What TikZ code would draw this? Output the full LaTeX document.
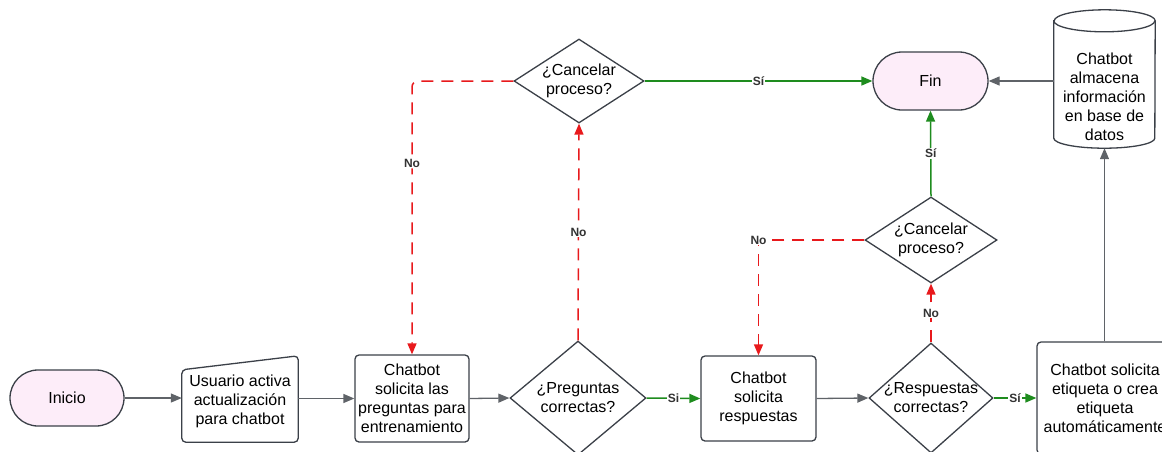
\documentclass[tikz,border=0pt]{standalone}
\usepackage{fontspec}
\setmainfont{Liberation Sans}
\usetikzlibrary{shapes.geometric,shapes.misc,arrows.meta}
\definecolor{bd}{HTML}{3B4048}
\definecolor{pinkf}{HTML}{FDEDF9}
\definecolor{ar}{HTML}{5F6368}
\definecolor{gr}{HTML}{1E8C1E}
\definecolor{rd}{HTML}{E8191C}
\begin{document}
\begin{tikzpicture}[x=1pt,y=-1pt,
 font=\fontsize{16}{19}\selectfont,
 base/.style={draw=bd, line width=1.3pt, align=center, text=black, inner sep=0pt},
 term/.style={base, rounded rectangle, fill=pinkf},
 proc/.style={base, rectangle, rounded corners=4pt, fill=white},
 dec/.style={base, diamond, fill=white},
 txt/.style={align=center, inner sep=0pt, text=black},
 tip/.style={-{Triangle[length=11pt,width=9pt]}},
 flow/.style={draw=ar, line width=1.3pt, tip},
 yes/.style={draw=gr, line width=1.5pt, tip},
 no/.style={draw=rd, line width=1.5pt, dash pattern=on 12pt off 8pt, tip},
 lbl/.style={fill=white, inner sep=1.2pt, font=\fontsize{12}{13}\selectfont\bfseries, text=black!80}
]
\useasboundingbox (0,0) rectangle (1162,451);

% nodes
\node[term, minimum width=114pt, minimum height=56pt] (ini) at (67,398) {Inicio};
\node[inner sep=0pt, minimum width=116pt, minimum height=82pt] (u) at (240,401) {};
\draw[draw=bd, line width=1.3pt, fill=white, rounded corners=4pt]
  (u.south west) -- ([yshift=-10pt]u.north west) -- ([yshift=4pt]u.north east) -- (u.south east) -- cycle;
\node[txt] (ut) at (u) {Usuario activa\\actualización\\para chatbot};

\node[proc, minimum width=114pt, minimum height=87pt] (cs) at (412,398.5) {Chatbot\\solicita las\\preguntas para\\entrenamiento};

\node[dec, minimum width=136pt, minimum height=114pt] (dp) at (578,398) {};
\node[txt] (dpt) at (dp) {¿Preguntas\\correctas?};

\node[proc, minimum width=115pt, minimum height=85pt] (cr) at (758.5,398.5) {Chatbot\\solicita\\respuestas};

\node[dec, minimum width=124pt, minimum height=110pt] (dr) at (931,398) {};
\node[txt] (drt) at (dr) {¿Respuestas\\correctas?};

\node[proc, minimum width=136pt, minimum height=112pt] (et) at (1105,398) {Chatbot solicita\\etiqueta o crea\\etiqueta\\automáticamente};

\node[dec, minimum width=130pt, minimum height=84pt] (cp) at (579,81) {};
\node[txt] (cpt) at (cp) {¿Cancelar\\proceso?};

\node[dec, minimum width=132pt, minimum height=86pt] (cm) at (931,240) {};
\node[txt] (cmt) at (cm) {¿Cancelar\\proceso?};

\node[term, minimum width=115pt, minimum height=58pt] (fin) at (930.5,81) {Fin};

\node[minimum width=101pt, minimum height=138pt, inner sep=0pt] (db) at (1104.5,79) {};
\draw[draw=bd, line width=1.3pt, fill=white]
  ([yshift=-11pt]db.north west) -- ([yshift=10pt]db.south west)
  arc[start angle=180, end angle=360, x radius=50.5pt, y radius=10pt]
  -- ([yshift=-11pt]db.north east)
  arc[start angle=0, end angle=180, x radius=50.5pt, y radius=11pt] -- cycle;
\draw[draw=bd, line width=1.3pt]
  ([yshift=-11pt]db.north west) arc[start angle=180, end angle=360, x radius=50.5pt, y radius=11pt];
\node[txt] (dbt) at (1104.5,97) {Chatbot\\almacena\\información\\en base de\\datos};

% connectors
\draw[flow] (ini.east) -- (ini.east -| u.west);
\draw[flow] (u.east |- cs.west) -- (cs.west);
\draw[flow] (cs.east) -- (dp.west);
\draw[yes] (dp.east) -- node[lbl] (l1) {Si} (cr.west);
\draw[flow] (cr.east) -- (dr.west);
\draw[yes] (dr.east) -- node[lbl] (l2) {Sí} (dr.east -| et.west);
\draw[flow] (db.south |- et.north) -- (db.south);
\draw[flow] (db.west |- fin.east) -- (fin.east);

\draw[no] (dp.north) -- node[lbl] (l3) {No} (cp.south);
\draw[no, rounded corners=6pt] (cp.west) -| node[lbl, pos=0.65] (l4) {No} (cs.north);
\draw[yes] (cp.east) -- node[lbl] (l5) {Sí} (fin.west);

\draw[no] (dr.north) -- node[lbl] (l6) {No} (cm.south);
\draw[no] (cm.west) -| node[lbl, pos=0.5] (l7) {No} (cr.north);
\draw[yes] (cm.north) -- node[lbl] (l8) {Sí} (fin.south);
\end{tikzpicture}
\end{document}
